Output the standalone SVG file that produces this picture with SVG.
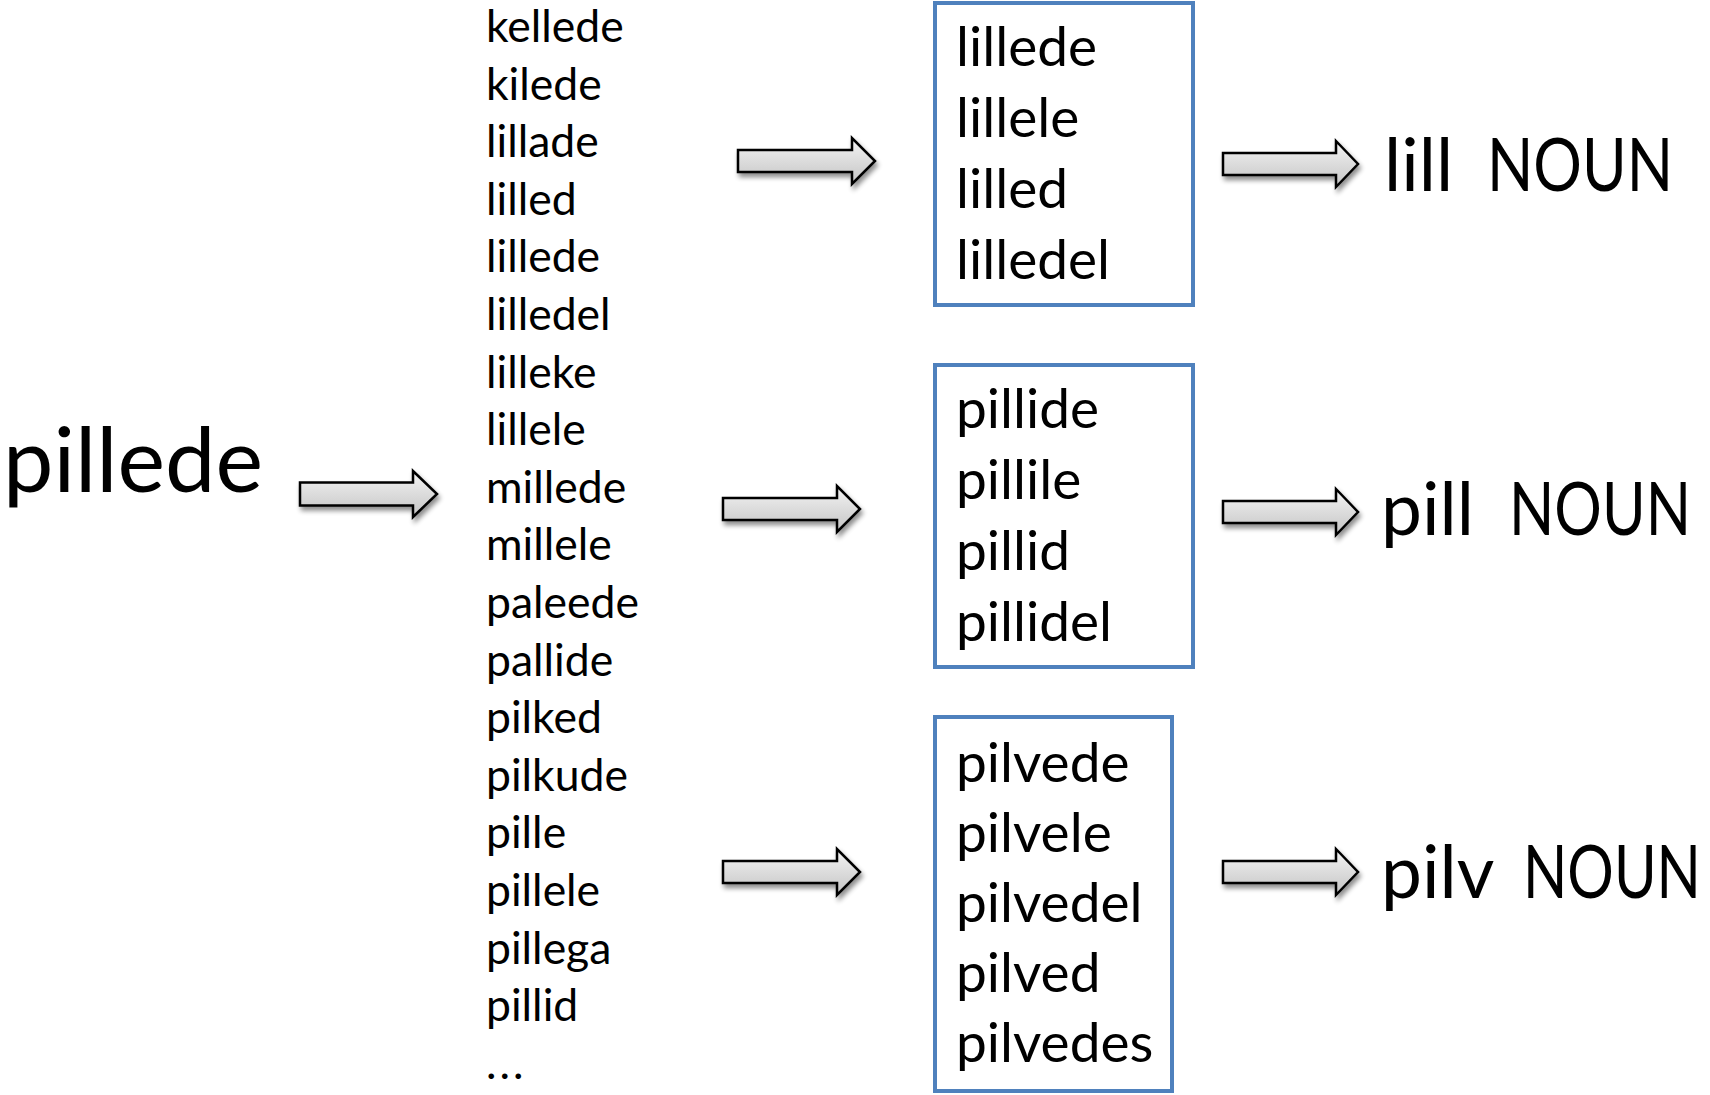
<svg xmlns="http://www.w3.org/2000/svg" width="1710" height="1095" viewBox="0 0 1710 1095">
<defs>
<linearGradient id="ag" x1="0" y1="0" x2="0" y2="1">
<stop offset="0" stop-color="#f4f4f4"/>
<stop offset="1" stop-color="#c4c4c4"/>
</linearGradient>
<filter id="sh" x="-20%" y="-40%" width="150%" height="200%">
<feGaussianBlur in="SourceAlpha" stdDeviation="2.5"/>
<feOffset dx="2" dy="4" result="b"/>
<feComponentTransfer><feFuncA type="linear" slope="0.45"/></feComponentTransfer>
<feMerge><feMergeNode/><feMergeNode in="SourceGraphic"/></feMerge>
</filter>
</defs>
<style>
text{font-family:Lato,"Open Sans","Liberation Sans",sans-serif;fill:#000}
.list{font-size:44.5px}
.box{font-size:55px}
.big{font-size:90px}
.noun{font-size:73px}
.frame{fill:#fff;stroke:#4f81bd;stroke-width:4}
.arrow{fill:url(#ag);stroke:#000;stroke-width:2.5;stroke-linejoin:miter;filter:url(#sh)}
</style>
<rect width="1710" height="1095" fill="#fff"/>
<g id="source"><text class="big" x="3" y="492">pillede</text></g>
<g id="candidates">
<text class="list" x="486" y="42">kellede</text>
<text class="list" x="486" y="99.6">kilede</text>
<text class="list" x="486" y="157.2">lillade</text>
<text class="list" x="486" y="214.8">lilled</text>
<text class="list" x="486" y="272.4">lillede</text>
<text class="list" x="486" y="330">lilledel</text>
<text class="list" x="486" y="387.6">lilleke</text>
<text class="list" x="486" y="445.2">lillele</text>
<text class="list" x="486" y="502.8">millede</text>
<text class="list" x="486" y="560.4">millele</text>
<text class="list" x="486" y="618">paleede</text>
<text class="list" x="486" y="675.6">pallide</text>
<text class="list" x="486" y="733.2">pilked</text>
<text class="list" x="486" y="790.8">pilkude</text>
<text class="list" x="486" y="848.4">pille</text>
<text class="list" x="486" y="906">pillele</text>
<text class="list" x="486" y="963.6">pillega</text>
<text class="list" x="486" y="1021.2">pillid</text>
<text class="list" x="486" y="1078.8" letter-spacing="3">...</text>
</g>
<g id="group-lill">
<rect class="frame" x="935" y="3" width="258" height="302"/>
<text class="box" x="956" y="66">lillede</text>
<text class="box" x="956" y="137">lillele</text>
<text class="box" x="956" y="208">lilled</text>
<text class="box" x="956" y="279">lilledel</text>
</g>
<g id="group-pill">
<rect class="frame" x="935" y="365" width="258" height="302"/>
<text class="box" x="956" y="428">pillide</text>
<text class="box" x="956" y="499">pillile</text>
<text class="box" x="956" y="570">pillid</text>
<text class="box" x="956" y="641">pillidel</text>
</g>
<g id="group-pilv">
<rect class="frame" x="935" y="717" width="237" height="374"/>
<text class="box" x="956" y="782">pilvede</text>
<text class="box" x="956" y="852">pilvele</text>
<text class="box" x="956" y="922">pilvedel</text>
<text class="box" x="956" y="992">pilved</text>
<text class="box" x="956" y="1062">pilvedes</text>
</g>
<g id="result-lill"><text class="noun" x="1384" y="191">lill</text><text class="noun" x="1487" y="191" textLength="186" lengthAdjust="spacingAndGlyphs">NOUN</text></g>
<g id="result-pill"><text class="noun" x="1381" y="535">pill</text><text class="noun" x="1509" y="535" textLength="182" lengthAdjust="spacingAndGlyphs">NOUN</text></g>
<g id="result-pilv"><text class="noun" x="1381" y="898">pilv</text><text class="noun" x="1523" y="898" textLength="178" lengthAdjust="spacingAndGlyphs">NOUN</text></g>
<g id="connectors">
<path class="arrow" d="M300,482.5 H413 V471 L437,494 L413,517 V505.5 H300 Z"/>
<path class="arrow" d="M738,150 H852 V138 L875,161 L852,184 V172 H738 Z"/>
<path class="arrow" d="M723,498 H837 V486 L860,509 L837,532 V520 H723 Z"/>
<path class="arrow" d="M723,861 H837 V849 L860,872 L837,895 V883 H723 Z"/>
<path class="arrow" d="M1223,153 H1336 V141 L1358,164 L1336,187 V175 H1223 Z"/>
<path class="arrow" d="M1223,501 H1336 V489 L1358,512 L1336,535 V523 H1223 Z"/>
<path class="arrow" d="M1223,861 H1336 V849 L1358,872 L1336,895 V883 H1223 Z"/>
</g>
</svg>
